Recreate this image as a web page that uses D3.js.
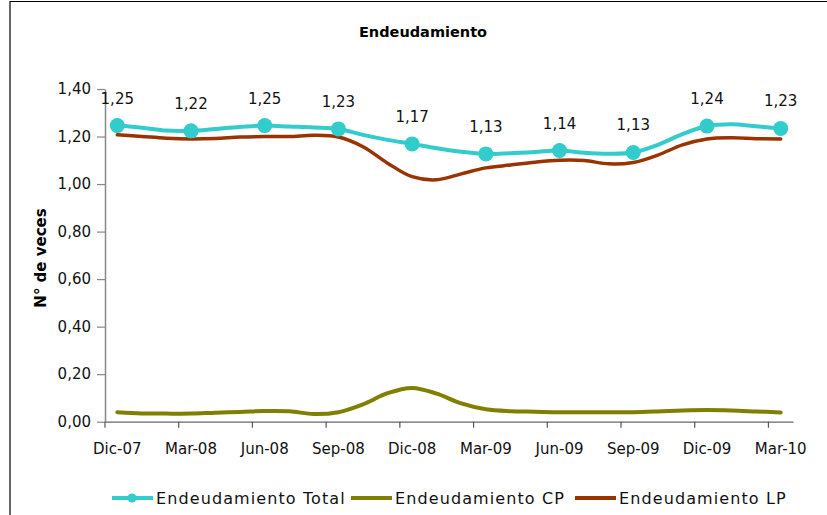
<!DOCTYPE html>
<html>
<head>
<meta charset="utf-8">
<script src="https://cdn.jsdelivr.net/npm/d3@7"></script>
<style>
  html, body { margin: 0; padding: 0; background: #fff; }
  svg { display: block; font-family: "DejaVu Sans", sans-serif; }
</style>
</head>
<body>
<svg id="chart" width="827" height="515"></svg>
<script>
const categories = ["Dic-07","Ene-08","Feb-08","Mar-08","Abr-08","May-08","Jun-08","Jul-08","Ago-08","Sep-08","Oct-08","Nov-08",
  "Dic-08","Ene-09","Feb-09","Mar-09","Abr-09","May-09","Jun-09","Jul-09","Ago-09","Sep-09","Oct-09","Nov-09",
  "Dic-09","Ene-10","Feb-10","Mar-10"];
const tickLabels = ["Dic-07","Mar-08","Jun-08","Sep-08","Dic-08","Mar-09","Jun-09","Sep-09","Dic-09","Mar-10"];
const endeudamientoTotal = [1.246,1.237,1.225,1.224,1.232,1.240,1.246,1.242,1.238,1.232,1.207,1.186,1.169,1.151,1.136,1.127,1.130,1.135,1.141,1.132,1.128,1.133,1.165,1.210,1.244,1.252,1.243,1.234];
const endeudamientoCP = [0.040,0.035,0.034,0.034,0.038,0.041,0.045,0.044,0.032,0.040,0.073,0.120,0.142,0.118,0.077,0.052,0.044,0.042,0.040,0.040,0.040,0.040,0.043,0.047,0.049,0.047,0.043,0.039];
const endeudamientoLP = [1.207,1.200,1.193,1.190,1.192,1.198,1.200,1.200,1.205,1.198,1.157,1.088,1.031,1.018,1.043,1.068,1.080,1.092,1.100,1.099,1.085,1.091,1.122,1.165,1.190,1.195,1.191,1.190];
const yTicks = [0,0.2,0.4,0.6,0.8,1.0,1.2,1.4];
const seriesNames = ["Endeudamiento Total","Endeudamiento CP","Endeudamiento LP"];
const title = "Endeudamiento";
const yTitle = "N° de veces";

const colors = ["#33CCCC", "#808000", "#993300"];
const locale = d3.formatLocale({decimal: ",", thousands: ".", grouping: [3], currency: ["", "€"]});
const fmt = locale.format(".2f");

const svg = d3.select("#chart");

// outer frame (cropped)
svg.append("line").attr("x1", 10).attr("x2", 827).attr("y1", 1.5).attr("y2", 1.5).attr("stroke", "#000").attr("stroke-width", 1.2);
svg.append("line").attr("x1", 10).attr("x2", 10).attr("y1", 1).attr("y2", 515).attr("stroke", "#000").attr("stroke-width", 1.2);

const x = d3.scaleBand().domain(categories).range([105, 793]).padding(0);
const y = d3.scaleLinear().domain([0, 1.4]).range([421.7, 89]);
const bw = x.bandwidth();
const cx = c => x(c) + bw / 2;

// title
svg.append("text").attr("x", 423).attr("y", 37).attr("text-anchor", "middle")
  .attr("font-weight", "bold").attr("font-size", 14.5).attr("fill", "#000").text(title);

// y title
svg.append("text").attr("transform", "translate(46,258) rotate(-90)").attr("text-anchor", "middle")
  .attr("font-weight", "bold").attr("font-size", 15).attr("fill", "#000").text(yTitle);

// y axis
const yAxis = svg.append("g").attr("transform", "translate(105,0)")
  .call(d3.axisLeft(y).tickValues(yTicks).tickFormat(fmt).tickSize(8).tickSizeOuter(0).tickPadding(6));
yAxis.select(".domain").attr("stroke", "#888").attr("stroke-width", 1.5);
yAxis.selectAll(".tick line").attr("stroke", "#888").attr("stroke-width", 1.2);
yAxis.selectAll(".tick text").attr("font-size", 15).attr("fill", "#111").attr("font-family", "DejaVu Sans");

// x axis
const xAxis = svg.append("g").attr("transform", "translate(0,421.7)")
  .call(d3.axisBottom(x).tickValues(tickLabels).tickSize(6).tickSizeOuter(0).tickPadding(16));
xAxis.select(".domain").attr("stroke", "#666").attr("stroke-width", 1.3);
xAxis.selectAll(".tick line").attr("transform", `translate(${-bw / 2},0)`).attr("stroke", "#555").attr("stroke-width", 1.2);
xAxis.selectAll(".tick text").attr("font-size", 15).attr("fill", "#111").attr("font-family", "DejaVu Sans");

const line = d3.line().x((d, i) => cx(categories[i])).y(d => y(d)).curve(d3.curveCatmullRom.alpha(0.5));

const series = [endeudamientoTotal, endeudamientoCP, endeudamientoLP];
const widths = [4, 4, 3.5];
// draw CP, LP then Total on top
[1, 2, 0].forEach(k => {
  svg.append("path").datum(series[k]).attr("d", line)
    .attr("fill", "none").attr("stroke", colors[k]).attr("stroke-width", widths[k])
    .attr("stroke-linejoin", "round").attr("stroke-linecap", "round");
});

// markers and labels on Total (quarterly)
const quarterIdx = categories.map((c, i) => i).filter(i => tickLabels.includes(categories[i]));
svg.append("g").selectAll("circle").data(quarterIdx).join("circle")
  .attr("cx", i => cx(categories[i])).attr("cy", i => y(endeudamientoTotal[i])).attr("r", 7.5)
  .attr("fill", colors[0]);
svg.append("g").selectAll("text").data(quarterIdx).join("text")
  .attr("x", i => cx(categories[i])).attr("y", i => y(endeudamientoTotal[i]) - 22)
  .attr("text-anchor", "middle").attr("font-size", 15).attr("fill", "#111")
  .text(i => fmt(endeudamientoTotal[i]));

// legend
const legendX = [112, 351, 575];
const ly = 498;
seriesNames.forEach((name, k) => {
  const g = svg.append("g").attr("transform", `translate(${legendX[k]},${ly})`);
  g.append("line").attr("x1", 0).attr("x2", 41).attr("y1", 0).attr("y2", 0)
    .attr("stroke", colors[k]).attr("stroke-width", 4);
  if (k === 0) g.append("circle").attr("cx", 20).attr("cy", 0).attr("r", 4.5).attr("fill", colors[k]);
  g.append("text").attr("x", 44).attr("y", 6).attr("font-size", 16).attr("letter-spacing", 1.1)
    .attr("fill", "#111").text(name);
});
</script>
</body>
</html>
